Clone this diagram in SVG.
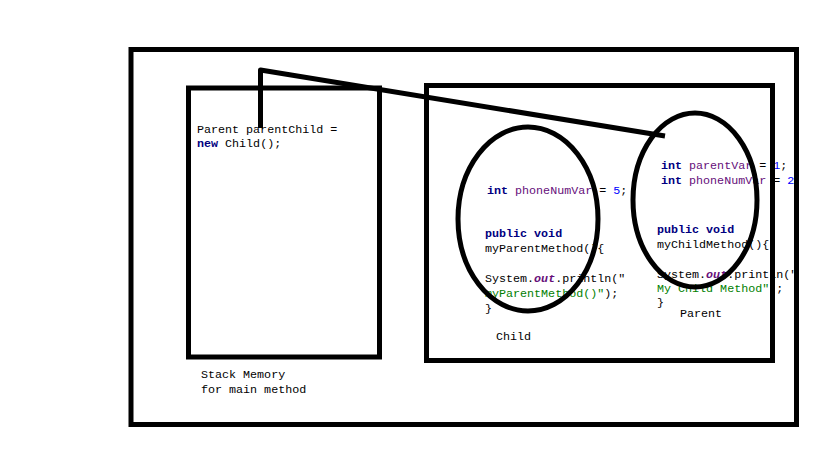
<svg xmlns="http://www.w3.org/2000/svg" width="819" height="460" viewBox="0 0 819 460">
<style>
.t{font-family:"Liberation Mono","DejaVu Sans Mono",monospace;font-size:11.7px;fill:#000}
.k{fill:#000080;font-weight:bold}
.f{fill:#660E7A}
.n{fill:#0000FF}
.s{fill:#008000}
.i{font-style:italic;font-weight:bold}
.box{fill:none;stroke:#000;stroke-width:5}
</style>
<rect width="819" height="460" fill="#fff"/>
<g id="texts">
<text class="t" x="197" y="133">Parent parentChild =</text>
<text class="t" x="197" y="147"><tspan class="k">new</tspan> Child();</text>
<text class="t" x="487" y="194"><tspan class="k">int</tspan> <tspan class="f">phoneNumVar</tspan> = <tspan class="n">5</tspan>;</text>
<text class="t" x="485" y="237"><tspan class="k">public void</tspan></text>
<text class="t" x="485" y="252">myParentMethod(){</text>
<text class="t" x="485" y="282">System.<tspan class="f i">out</tspan>.println("</text>
<text class="t" x="485" y="297"><tspan class="s">myParentMethod()"</tspan>);</text>
<text class="t" x="485" y="312">}</text>
<text class="t" x="496" y="340">Child</text>
<text class="t" x="661" y="169"><tspan class="k">int</tspan> <tspan class="f">parentVar</tspan> = <tspan class="n">1</tspan>;</text>
<text class="t" x="661" y="184"><tspan class="k">int</tspan> <tspan class="f">phoneNumVar</tspan> = <tspan class="n">2</tspan></text>
<text class="t" x="657" y="233"><tspan class="k">public void</tspan></text>
<text class="t" x="657" y="248">myChildMethod(){</text>
<text class="t" x="657" y="278">System.<tspan class="f i">out</tspan>.println("</text>
<text class="t" x="657" y="292"><tspan class="s">My Child Method"</tspan> ;</text>
<text class="t" x="657" y="306">}</text>
<text class="t" x="680" y="317">Parent</text>
<text class="t" x="201" y="378">Stack Memory</text>
<text class="t" x="201" y="393">for main method</text>
</g>
<g id="outer"><rect class="box" x="131" y="49.5" width="665.5" height="375"/></g>
<g id="stack"><rect class="box" x="188.5" y="88" width="191" height="269"/></g>
<g id="heap"><rect class="box" x="426.5" y="85.5" width="346" height="275"/></g>
<g id="child"><ellipse class="box" cx="528" cy="219" rx="70" ry="92"/></g>
<g id="parent"><ellipse class="box" cx="695" cy="200" rx="62" ry="87"/></g>
<g id="connectors"><polyline fill="none" stroke="#000" stroke-width="5" stroke-linejoin="round" points="260.5,128 260.5,70 665,136"/></g>
</svg>
